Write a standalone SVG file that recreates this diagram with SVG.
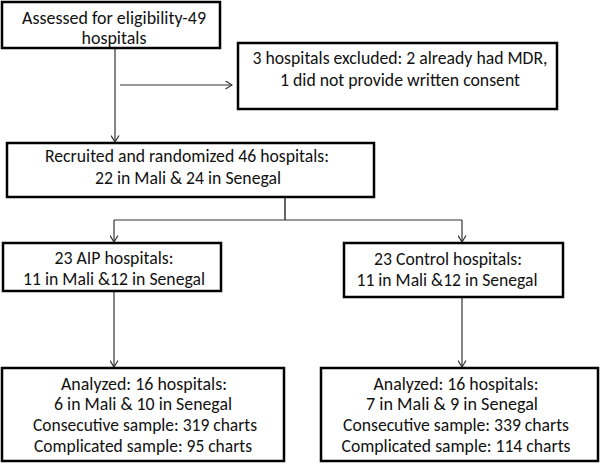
<svg xmlns="http://www.w3.org/2000/svg" width="600" height="465" viewBox="0 0 600 465">
<style>
  .box { fill: #ffffff; stroke: #000000; stroke-width: 2.5; }
  .t { font-family: Carlito, Lato, "Liberation Sans", sans-serif; font-size: 18px; fill: #111111; text-anchor: middle; }
  .s { font-size: 17.5px; }
  .c { fill: none; stroke: #333333; stroke-width: 1.2; }
  .trunk { fill: none; stroke: #555555; stroke-width: 1.8; }
</style>
<defs>
  <marker id="arr" markerUnits="userSpaceOnUse" markerWidth="8" markerHeight="9" viewBox="0 0 8 9" refX="7" refY="4.5" orient="auto">
    <path d="M0.5,0.5 L7,4.5 L0.5,8.5" fill="none" stroke="#333333" stroke-width="1.2"/>
  </marker>
</defs>
<rect width="600" height="465" fill="#ffffff"/>

<g id="connectors">
  <path class="c" d="M115,48 V142" marker-end="url(#arr)"/>
  <path class="c" d="M120,85 H232" marker-end="url(#arr)"/>
  <path class="trunk" d="M285,197 V220"/>
  <path class="c" d="M114,220 H462"/>
  <path class="c" d="M114,220 V242" marker-end="url(#arr)"/>
  <path class="c" d="M462,220 V242" marker-end="url(#arr)"/>
  <path class="c" d="M114,291 V367" marker-end="url(#arr)"/>
  <path class="c" d="M462,297 V367" marker-end="url(#arr)"/>
</g>

<g id="assessed">
  <rect class="box" x="2" y="2" width="218" height="46"/>
  <text class="t s" x="114" y="23.5" textLength="184" lengthAdjust="spacingAndGlyphs">Assessed for eligibility-49</text>
  <text class="t s" x="114" y="43.5" textLength="65" lengthAdjust="spacingAndGlyphs">hospitals</text>
</g>

<g id="excluded">
  <rect class="box" x="238" y="43" width="319" height="66"/>
  <text class="t" x="400" y="64" textLength="295" lengthAdjust="spacingAndGlyphs">3 hospitals excluded: 2 already had MDR,</text>
  <text class="t" x="400" y="86" textLength="240" lengthAdjust="spacingAndGlyphs">1 did not provide written consent</text>
</g>

<g id="randomized">
  <rect class="box" x="7" y="143" width="367" height="54"/>
  <text class="t" x="187" y="162" textLength="284" lengthAdjust="spacingAndGlyphs">Recruited and randomized 46 hospitals:</text>
  <text class="t" x="188" y="184" textLength="186" lengthAdjust="spacingAndGlyphs">22 in Mali &amp; 24 in Senegal</text>
</g>

<g id="aip">
  <rect class="box" x="3" y="243" width="218" height="48"/>
  <text class="t" x="114" y="264" textLength="119" lengthAdjust="spacingAndGlyphs">23 AIP hospitals:</text>
  <text class="t" x="114" y="285" textLength="182" lengthAdjust="spacingAndGlyphs">11 in Mali &amp;12 in Senegal</text>
</g>

<g id="control">
  <rect class="box" x="344" y="243" width="219" height="54"/>
  <text class="t" x="448" y="265" textLength="148" lengthAdjust="spacingAndGlyphs">23 Control hospitals:</text>
  <text class="t" x="447" y="286" textLength="181" lengthAdjust="spacingAndGlyphs">11 in Mali &amp;12 in Senegal</text>
</g>

<g id="analyzed-aip">
  <rect class="box" x="2" y="368" width="282" height="93"/>
  <text class="t" x="144" y="390" textLength="166" lengthAdjust="spacingAndGlyphs">Analyzed: 16 hospitals:</text>
  <text class="t" x="143" y="410" textLength="178" lengthAdjust="spacingAndGlyphs">6 in Mali &amp; 10 in Senegal</text>
  <text class="t" x="145" y="431" textLength="224" lengthAdjust="spacingAndGlyphs">Consecutive sample: 319 charts</text>
  <text class="t" x="143" y="452" textLength="218" lengthAdjust="spacingAndGlyphs">Complicated sample: 95 charts</text>
</g>

<g id="analyzed-control">
  <rect class="box" x="321" y="368" width="277" height="93"/>
  <text class="t" x="456" y="390" textLength="165" lengthAdjust="spacingAndGlyphs">Analyzed: 16 hospitals:</text>
  <text class="t" x="452" y="410" textLength="172" lengthAdjust="spacingAndGlyphs">7 in Mali &amp; 9 in Senegal</text>
  <text class="t" x="456" y="431" textLength="226" lengthAdjust="spacingAndGlyphs">Consecutive sample: 339 charts</text>
  <text class="t" x="456" y="452" textLength="229" lengthAdjust="spacingAndGlyphs">Complicated sample: 114 charts</text>
</g>
</svg>
